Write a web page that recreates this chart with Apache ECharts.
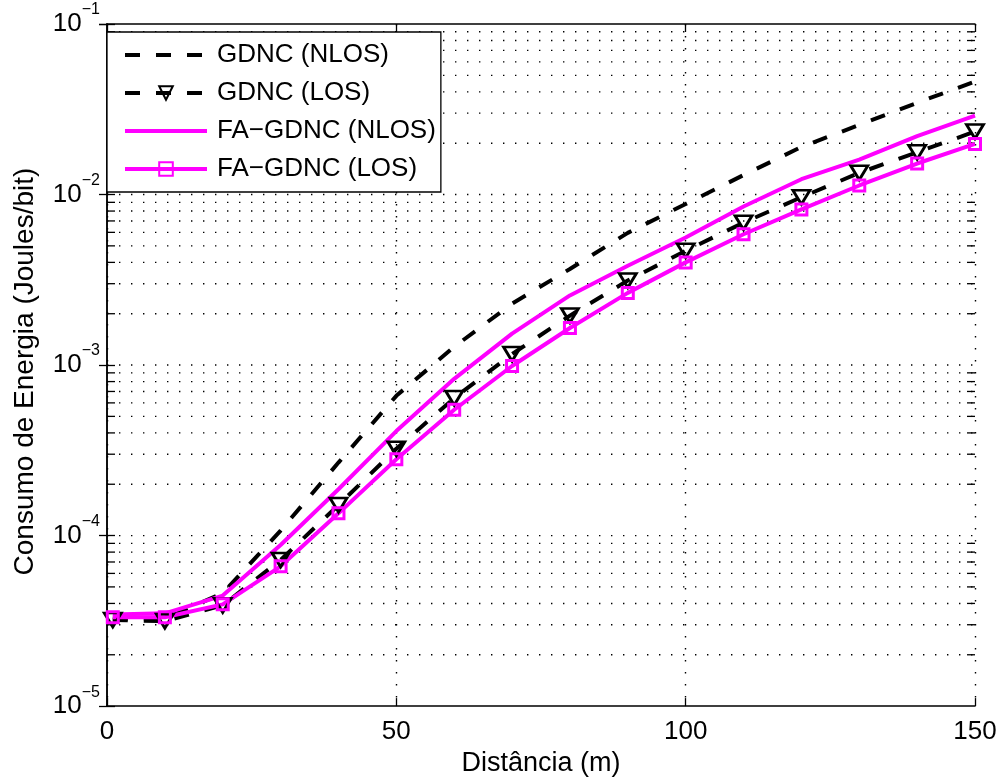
<!DOCTYPE html>
<html><head><meta charset="utf-8">
<script src="https://cdn.jsdelivr.net/npm/echarts@6/dist/echarts.min.js"></script>
<style>html,body{margin:0;padding:0;background:#fff}#c{width:1000px;height:782px}</style>
</head><body><div id="c"></div>
<script>
// ---- data ----
const distances = [1, 10, 20, 30, 40, 50, 60, 70, 80, 90, 100, 110, 120, 130, 140, 150];
const gdncNlos  = [3.25e-5, 3.25e-5, 4.6e-5, 1.07e-4, 2.68e-4, 6.6e-4, 1.28e-3, 2.29e-3, 3.66e-3, 5.96e-3, 8.8e-3, 1.3e-2, 1.9e-2, 2.56e-2, 3.45e-2, 4.6e-2];
const gdncLos   = [3.2e-5, 3.15e-5, 3.9e-5, 7.2e-5, 1.51e-4, 3.23e-4, 6.4e-4, 1.16e-3, 1.95e-3, 3.13e-3, 4.68e-3, 6.84e-3, 9.64e-3, 1.34e-2, 1.77e-2, 2.34e-2];
const faNlos    = [3.45e-5, 3.5e-5, 4.45e-5, 8.8e-5, 1.87e-4, 4.1e-4, 8.3e-4, 1.53e-3, 2.56e-3, 3.82e-3, 5.6e-3, 8.5e-3, 1.23e-2, 1.6e-2, 2.2e-2, 2.9e-2];
const faLos     = [3.32e-5, 3.32e-5, 3.95e-5, 6.6e-5, 1.35e-4, 2.8e-4, 5.47e-4, 9.87e-4, 1.65e-3, 2.65e-3, 4.0e-3, 5.85e-3, 8.18e-3, 1.13e-2, 1.52e-2, 1.98e-2];
const seriesNames = ['GDNC (NLOS)', 'GDNC (LOS)', 'FA\u2212GDNC (NLOS)', 'FA\u2212GDNC (LOS)'];
const xTicks = [0, 50, 100, 150];
const yExponents = [-5, -4, -3, -2, -1];
const minorMultipliers = [2, 3, 4, 5, 6, 7, 8, 9];
const xName = 'Dist\u00e2ncia (m)';
const yName = 'Consumo de Energia (Joules/bit)';

// ---- helpers ----
const FONT = "'Liberation Sans', Arial, Helvetica, sans-serif";
const zip = (xs, ys) => xs.map((x, i) => [x, ys[i]]);
const xMin = xTicks[0], xMax = xTicks[xTicks.length - 1];
const yMin = Math.pow(10, yExponents[0]), yMax = Math.pow(10, yExponents[yExponents.length - 1]);
const gridVals = [];
for (let i = 0; i < yExponents.length - 1; i++) {
  const base = Math.pow(10, yExponents[i]);
  if (i > 0) gridVals.push([xMin, base, 0]);
  minorMultipliers.forEach(m => gridVals.push([xMin, m * base, 1]));
}
const DOT = [1.4, 10.6];
const LW = 4;
const DASH = [15, 16];

const chart = echarts.init(document.getElementById('c'), null, {renderer: 'canvas'});
const axisCommon = {
  axisLine: {show: true, lineStyle: {color: '#000', width: 1.5}},
  axisTick: {show: true, inside: true, length: 8, lineStyle: {color: '#000', width: 1.3}},
};
chart.setOption({
  animation: false,
  backgroundColor: '#fff',
  grid: {left: 107, right: 25, top: 24, bottom: 72, containLabel: false},
  xAxis: [
    Object.assign({
      type: 'value', min: xMin, max: xMax, interval: 50, position: 'bottom',
      name: xName, nameLocation: 'middle', nameGap: 40,
      nameTextStyle: {fontFamily: FONT, fontSize: 27, color: '#000'},
      axisLabel: {fontFamily: FONT, fontSize: 26, color: '#000', margin: 13},
      splitLine: {show: true, lineStyle: {color: '#000', width: 1.4, type: DOT}}
    }, axisCommon),
    Object.assign({
      type: 'value', min: xMin, max: xMax, interval: 50, position: 'top',
      axisLabel: {show: false}, splitLine: {show: false}
    }, axisCommon)
  ],
  yAxis: [
    Object.assign({
      type: 'log', logBase: 10, min: yMin, max: yMax, position: 'left',
      name: yName, nameLocation: 'middle', nameGap: 68,
      nameTextStyle: {fontFamily: FONT, fontSize: 28, color: '#000', padding: [0, 13, 0, 0]},
      axisLabel: {
        margin: 7, fontFamily: FONT, color: '#000',
        formatter: v => '{b|10}{s|\u2212' + Math.abs(Math.round(Math.log10(v))) + '}',
        rich: {
          b: {fontFamily: FONT, fontSize: 26, color: '#000', lineHeight: 26, verticalAlign: 'bottom'},
          s: {fontFamily: FONT, fontSize: 16, color: '#000', lineHeight: 16, verticalAlign: 'bottom', padding: [0, 0, 19, 0]}
        }
      },
      splitLine: {show: false}
    }, axisCommon),
    Object.assign({
      type: 'log', logBase: 10, min: yMin, max: yMax, position: 'right',
      axisLabel: {show: false}, splitLine: {show: false}
    }, axisCommon)
  ],
  legend: {
    data: [
      {name: seriesNames[0], itemStyle: {opacity: 0}},
      {name: seriesNames[1]},
      {name: seriesNames[2], itemStyle: {opacity: 0}},
      {name: seriesNames[3]}
    ],
    orient: 'vertical', left: 107, top: 32,
    itemWidth: 82, itemHeight: 17, itemGap: 12,
    padding: [10, 5, 10, 16],
    backgroundColor: '#fff', borderColor: '#000', borderWidth: 1.3,
    selectedMode: false,
    lineStyle: {width: LW},
    textStyle: {fontFamily: FONT, fontSize: 26, color: '#000', lineHeight: 26, padding: [0, 0, 0, 5]}
  },
  series: [
    {
      type: 'custom', name: 'grid', silent: true, z: 1,
      xAxisIndex: 0, yAxisIndex: 0,
      data: gridVals,
      renderItem: (params, api) => {
        const v = api.value(1);
        const p0 = api.coord([xMin, v]);
        const p1 = api.coord([xMax, v]);
        const ch = [{type: 'line', shape: {x1: p0[0], y1: p0[1], x2: p1[0], y2: p1[1]},
          style: {stroke: '#000', lineWidth: 1.4, lineDash: DOT}}];
        if (api.value(2) === 1) {
          ch.push({type: 'line', shape: {x1: p0[0], y1: p0[1], x2: p0[0] + 8, y2: p0[1]}, style: {stroke: '#000', lineWidth: 1.3}});
          ch.push({type: 'line', shape: {x1: p1[0] - 8, y1: p1[1], x2: p1[0], y2: p1[1]}, style: {stroke: '#000', lineWidth: 1.3}});
        }
        return {type: 'group', children: ch};
      }
    },
    {
      name: seriesNames[0], type: 'line', data: zip(distances, gdncNlos),
      symbol: 'none', showSymbol: false, color: '#000',
      lineStyle: {color: '#000', width: LW, type: DASH}
    },
    {
      name: seriesNames[1], type: 'line', data: zip(distances, gdncLos),
      symbol: 'triangle', symbolRotate: 180, symbolSize: [17, 14], color: '#000',
      itemStyle: {color: 'rgba(255,255,255,0)', borderColor: '#000', borderWidth: 2.8},
      lineStyle: {color: '#000', width: LW, type: DASH}
    },
    {
      name: seriesNames[2], type: 'line', data: zip(distances, faNlos),
      symbol: 'none', showSymbol: false, color: '#ff00ff',
      lineStyle: {color: '#ff00ff', width: LW}
    },
    {
      name: seriesNames[3], type: 'line', data: zip(distances, faLos),
      symbol: 'rect', symbolSize: 11, color: '#ff00ff',
      itemStyle: {color: 'rgba(255,255,255,0)', borderColor: '#ff00ff', borderWidth: 3},
      lineStyle: {color: '#ff00ff', width: LW}
    }
  ]
});
</script></body></html>
